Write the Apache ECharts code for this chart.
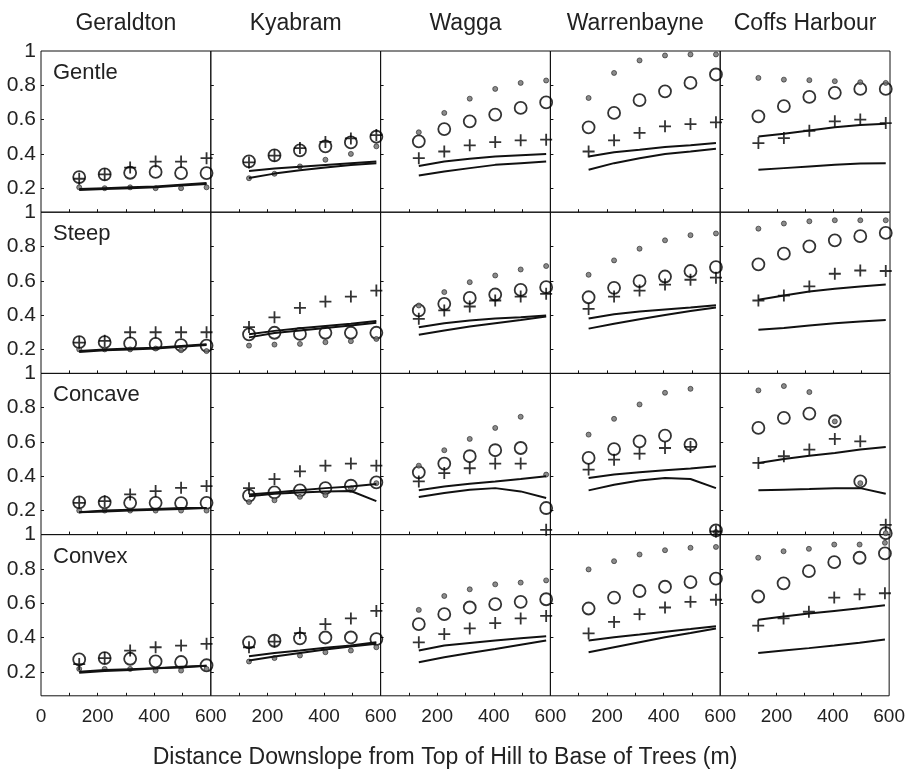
<!DOCTYPE html>
<html>
<head>
<meta charset="utf-8">
<script src="https://cdn.jsdelivr.net/npm/echarts@6/dist/echarts.min.js"></script>
<style>
html, body { margin: 0; padding: 0; background: #fff; }
#main { width: 908px; height: 774px; }
</style>
</head>
<body>
<div id="main"></div>
<script>
// distances of the six plots down the slope (m)
var distances = [135, 225, 315, 405, 495, 585];
var sites = ['Geraldton', 'Kyabram', 'Wagga', 'Warrenbayne', 'Coffs Harbour'];
var shapes = ['Gentle', 'Steep', 'Concave', 'Convex'];
var yTickValues = [0.2, 0.4, 0.6, 0.8, 1];
var xTickFirst = [0, 200, 400, 600];
var xTickOther = [200, 400, 600];
var axisTitle = 'Distance Downslope from Top of Hill to Base of Trees (m)';

// each array: one row of 6 values per site (Geraldton .. Coffs Harbour)
var gentleCircle = [
    [0.265, 0.28, 0.29, 0.295, 0.288, 0.288],
    [0.356, 0.391, 0.42, 0.444, 0.467, 0.5],
    [0.473, 0.545, 0.59, 0.629, 0.668, 0.70],
    [0.555, 0.639, 0.713, 0.765, 0.814, 0.863],
    [0.619, 0.678, 0.732, 0.756, 0.779, 0.779]
];
var gentlePlus = [
    [0.255, 0.28, 0.32, 0.355, 0.355, 0.375],
    [0.35, 0.39, 0.434, 0.47, 0.49, 0.51],
    [0.375, 0.414, 0.45, 0.469, 0.479, 0.483],
    [0.414, 0.479, 0.522, 0.561, 0.574, 0.584],
    [0.463, 0.492, 0.535, 0.59, 0.6, 0.58]
];
var gentleDot = [
    [0.205, 0.2, 0.205, 0.2, 0.2, 0.205],
    [0.258, 0.284, 0.327, 0.366, 0.4, 0.444],
    [0.526, 0.639, 0.722, 0.779, 0.814, 0.828],
    [0.726, 0.872, 0.945, 0.974, 0.98, 0.98],
    [0.843, 0.833, 0.83, 0.824, 0.818, 0.814]
];
var gentleLineA = [
    [0.195, 0.2, 0.205, 0.21, 0.22, 0.23],
    [0.3, 0.315, 0.325, 0.335, 0.345, 0.355],
    [0.33, 0.356, 0.371, 0.385, 0.392, 0.399],
    [0.385, 0.409, 0.424, 0.44, 0.451, 0.463],
    [0.502, 0.518, 0.537, 0.555, 0.569, 0.576]
];
var gentleLineB = [
    [0.19, 0.195, 0.2, 0.205, 0.215, 0.225],
    [0.26, 0.285, 0.305, 0.32, 0.335, 0.345],
    [0.274, 0.297, 0.317, 0.336, 0.346, 0.356],
    [0.307, 0.346, 0.375, 0.4, 0.414, 0.43],
    [0.307, 0.317, 0.327, 0.336, 0.344, 0.346]
];

var steepCircle = [
    [0.242, 0.242, 0.235, 0.232, 0.225, 0.222],
    [0.288, 0.297, 0.29, 0.297, 0.297, 0.297],
    [0.427, 0.466, 0.5, 0.52, 0.547, 0.563],
    [0.504, 0.559, 0.598, 0.625, 0.657, 0.68],
    [0.696, 0.758, 0.801, 0.836, 0.86, 0.879]
];
var steepPlus = [
    [0.24, 0.25, 0.3, 0.3, 0.3, 0.3],
    [0.33, 0.387, 0.442, 0.479, 0.508, 0.543],
    [0.378, 0.427, 0.45, 0.485, 0.508, 0.524],
    [0.436, 0.508, 0.543, 0.578, 0.606, 0.618],
    [0.485, 0.514, 0.567, 0.641, 0.66, 0.657]
];
var steepDot = [
    [0.2, 0.2, 0.2, 0.205, 0.195, 0.19],
    [0.222, 0.228, 0.232, 0.242, 0.248, 0.261],
    [0.456, 0.534, 0.592, 0.631, 0.666, 0.686],
    [0.635, 0.719, 0.787, 0.836, 0.866, 0.876],
    [0.904, 0.934, 0.947, 0.953, 0.953, 0.953]
];
var steepLineA = [
    [0.19, 0.2, 0.205, 0.21, 0.22, 0.23],
    [0.288, 0.308, 0.323, 0.337, 0.35, 0.366],
    [0.329, 0.353, 0.368, 0.38, 0.388, 0.398],
    [0.38, 0.405, 0.421, 0.433, 0.444, 0.458],
    [0.489, 0.514, 0.538, 0.553, 0.567, 0.578]
];
var steepLineB = [
    [0.185, 0.195, 0.2, 0.205, 0.215, 0.225],
    [0.27, 0.295, 0.31, 0.325, 0.34, 0.355],
    [0.285, 0.31, 0.333, 0.353, 0.372, 0.392],
    [0.321, 0.35, 0.376, 0.401, 0.424, 0.444],
    [0.314, 0.325, 0.339, 0.353, 0.363, 0.372]
];

var concaveCircle = [
    [0.248, 0.248, 0.245, 0.245, 0.244, 0.245],
    [0.287, 0.306, 0.318, 0.331, 0.345, 0.364],
    [0.423, 0.474, 0.517, 0.552, 0.565, 0.215],
    [0.507, 0.559, 0.604, 0.637, 0.585, 0.084],
    [0.682, 0.741, 0.766, 0.721, 0.37, 0.068]
];
var concavePlus = [
    [0.245, 0.255, 0.294, 0.314, 0.333, 0.343],
    [0.331, 0.384, 0.429, 0.462, 0.474, 0.462],
    [0.37, 0.419, 0.447, 0.474, 0.474, 0.088],
    [0.439, 0.497, 0.532, 0.565, 0.571, 0.078],
    [0.478, 0.517, 0.556, 0.618, 0.604, 0.117]
];
var concaveDot = [
    [0.2, 0.2, 0.2, 0.2, 0.2, 0.2],
    [0.25, 0.26, 0.28, 0.29, 0.33, 0.36],
    [0.462, 0.552, 0.618, 0.682, 0.747, 0.41],
    [0.643, 0.735, 0.819, 0.887, 0.91, 0.075],
    [0.901, 0.926, 0.891, 0.72, 0.36, 0.068]
];
var concaveLineA = [
    [0.19, 0.2, 0.205, 0.21, 0.215, 0.215],
    [0.294, 0.306, 0.318, 0.331, 0.341, 0.355],
    [0.318, 0.341, 0.357, 0.37, 0.384, 0.4],
    [0.39, 0.41, 0.423, 0.435, 0.446, 0.458],
    [0.478, 0.501, 0.52, 0.536, 0.556, 0.571]
];
var concaveLineB = [
    [0.19, 0.195, 0.2, 0.205, 0.21, 0.215],
    [0.284, 0.298, 0.306, 0.312, 0.314, 0.255],
    [0.279, 0.302, 0.322, 0.331, 0.312, 0.273],
    [0.318, 0.351, 0.376, 0.39, 0.384, 0.331],
    [0.318, 0.322, 0.326, 0.331, 0.331, 0.298]
];

var convexCircle = [
    [0.272, 0.28, 0.276, 0.261, 0.257, 0.238],
    [0.372, 0.381, 0.395, 0.4, 0.4, 0.391],
    [0.478, 0.536, 0.575, 0.594, 0.608, 0.623],
    [0.569, 0.633, 0.671, 0.696, 0.723, 0.743],
    [0.639, 0.716, 0.787, 0.839, 0.865, 0.89]
];
var convexPlus = [
    [0.245, 0.28, 0.324, 0.343, 0.353, 0.363],
    [0.343, 0.376, 0.426, 0.478, 0.511, 0.555],
    [0.372, 0.42, 0.453, 0.484, 0.511, 0.526],
    [0.424, 0.491, 0.536, 0.575, 0.608, 0.62],
    [0.469, 0.511, 0.55, 0.633, 0.652, 0.658]
];
var convexDot = [
    [0.217, 0.217, 0.217, 0.207, 0.207, 0.217],
    [0.26, 0.28, 0.295, 0.314, 0.324, 0.343],
    [0.561, 0.642, 0.681, 0.71, 0.72, 0.733],
    [0.797, 0.845, 0.884, 0.909, 0.923, 0.928],
    [0.865, 0.903, 0.917, 0.942, 0.942, 0.952]
];
var convexLineA = [
    [0.2, 0.21, 0.215, 0.22, 0.23, 0.235],
    [0.291, 0.31, 0.324, 0.34, 0.353, 0.372],
    [0.324, 0.353, 0.368, 0.382, 0.395, 0.407],
    [0.382, 0.401, 0.417, 0.434, 0.449, 0.465],
    [0.503, 0.522, 0.54, 0.555, 0.57, 0.588]
];
var convexLineB = [
    [0.195, 0.205, 0.21, 0.22, 0.225, 0.235],
    [0.266, 0.289, 0.31, 0.33, 0.347, 0.363],
    [0.256, 0.285, 0.31, 0.333, 0.358, 0.382],
    [0.314, 0.343, 0.372, 0.401, 0.426, 0.453],
    [0.31, 0.324, 0.338, 0.353, 0.369, 0.388]
];

var circleRows = [gentleCircle, steepCircle, concaveCircle, convexCircle];
var plusRows = [gentlePlus, steepPlus, concavePlus, convexPlus];
var dotRows = [gentleDot, steepDot, concaveDot, convexDot];
var lineARows = [gentleLineA, steepLineA, concaveLineA, convexLineA];
var lineBRows = [gentleLineB, steepLineB, concaveLineB, convexLineB];

var left0 = 41, cellW = 169.8, top0 = 51, cellH = 161.2;
var fontName = "'Liberation Sans', Arial, Helvetica, sans-serif";
var ink = '#111';

function toPoints(values) {
    return values.map(function (v, i) { return [distances[i], v]; });
}

var grids = [], xAxes = [], yAxes = [], series = [], texts = [];

for (var r = 0; r < shapes.length; r++) {
    for (var c = 0; c < sites.length; c++) {
        var idx = r * sites.length + c;
        grids.push({
            left: left0 + c * cellW,
            top: top0 + r * cellH,
            width: cellW,
            height: cellH,
            show: true,
            borderColor: ink,
            borderWidth: 1,
            backgroundColor: 'transparent'
        });
        xAxes.push({
            gridIndex: idx,
            type: 'value',
            min: 0,
            max: 600,
            axisLine: { show: false },
            splitLine: { show: false },
            axisTick: {
                show: true, inside: true, length: 3,
                customValues: [100, 200, 300, 400, 500],
                lineStyle: { color: ink }
            },
            axisLabel: {
                show: r === shapes.length - 1,
                customValues: c === 0 ? xTickFirst : xTickOther,
                margin: 11,
                color: '#222',
                fontSize: 19,
                fontFamily: fontName
            }
        });
        yAxes.push({
            gridIndex: idx,
            type: 'value',
            min: 0.06,
            max: 1,
            axisLine: { show: false },
            splitLine: { show: false },
            axisTick: {
                show: true, inside: true, length: 3,
                customValues: [0.2, 0.4, 0.6, 0.8],
                lineStyle: { color: ink }
            },
            axisLabel: {
                show: c === 0,
                customValues: yTickValues,
                margin: 5,
                color: '#222',
                fontSize: 21,
                fontFamily: fontName
            }
        });

        // two model lines
        [lineARows, lineBRows].forEach(function (rows) {
            series.push({
                type: 'line',
                xAxisIndex: idx,
                yAxisIndex: idx,
                data: toPoints(rows[r][c]),
                symbol: 'none',
                showSymbol: false,
                lineStyle: { color: ink, width: 2 },
                silent: true
            });
        });
        // open circles
        series.push({
            type: 'scatter',
            xAxisIndex: idx,
            yAxisIndex: idx,
            data: toPoints(circleRows[r][c]),
            symbol: 'circle',
            symbolSize: 12,
            itemStyle: { color: 'rgba(0,0,0,0)', borderColor: '#000', borderWidth: 1.8 },
            silent: true
        });
        // small grey dots
        series.push({
            type: 'scatter',
            xAxisIndex: idx,
            yAxisIndex: idx,
            data: toPoints(dotRows[r][c]),
            symbol: 'circle',
            symbolSize: 5,
            itemStyle: { color: '#6e6e6e', borderColor: '#222', borderWidth: 0.8 },
            silent: true
        });
        // plus signs
        series.push({
            type: 'scatter',
            xAxisIndex: idx,
            yAxisIndex: idx,
            data: toPoints(plusRows[r][c]),
            symbol: 'path://M0,6L12,6M6,0L6,12',
            symbolSize: 12,
            itemStyle: { color: 'rgba(0,0,0,0)', borderColor: '#000', borderWidth: 1.8 },
            silent: true
        });
    }
}

// site names above the columns
sites.forEach(function (name, c) {
    texts.push({
        type: 'text',
        x: left0 + c * cellW + cellW / 2,
        y: 24,
        style: {
            text: name, fill: '#222', font: "23px " + fontName,
            align: 'center', verticalAlign: 'middle',
            textAlign: 'center', textVerticalAlign: 'middle'
        }
    });
});
// slope shape inside the first panel of each row
shapes.forEach(function (name, r) {
    texts.push({
        type: 'text',
        x: left0 + 12,
        y: top0 + r * cellH + 22,
        style: {
            text: name, fill: '#222', font: "22px " + fontName,
            align: 'left', verticalAlign: 'middle',
            textAlign: 'left', textVerticalAlign: 'middle'
        }
    });
});
texts.push({
    type: 'text',
    x: 445,
    y: 758,
    style: {
        text: axisTitle, fill: '#222', font: "23px " + fontName,
        align: 'center', verticalAlign: 'middle',
        textAlign: 'center', textVerticalAlign: 'middle'
    }
});

var chart = echarts.init(document.getElementById('main'));
var option = {
    animation: false,
    backgroundColor: '#fff',
    grid: grids,
    xAxis: xAxes,
    yAxis: yAxes,
    series: series,
    graphic: { elements: texts }
};
chart.setOption(option, true);
</script>
</body>
</html>
